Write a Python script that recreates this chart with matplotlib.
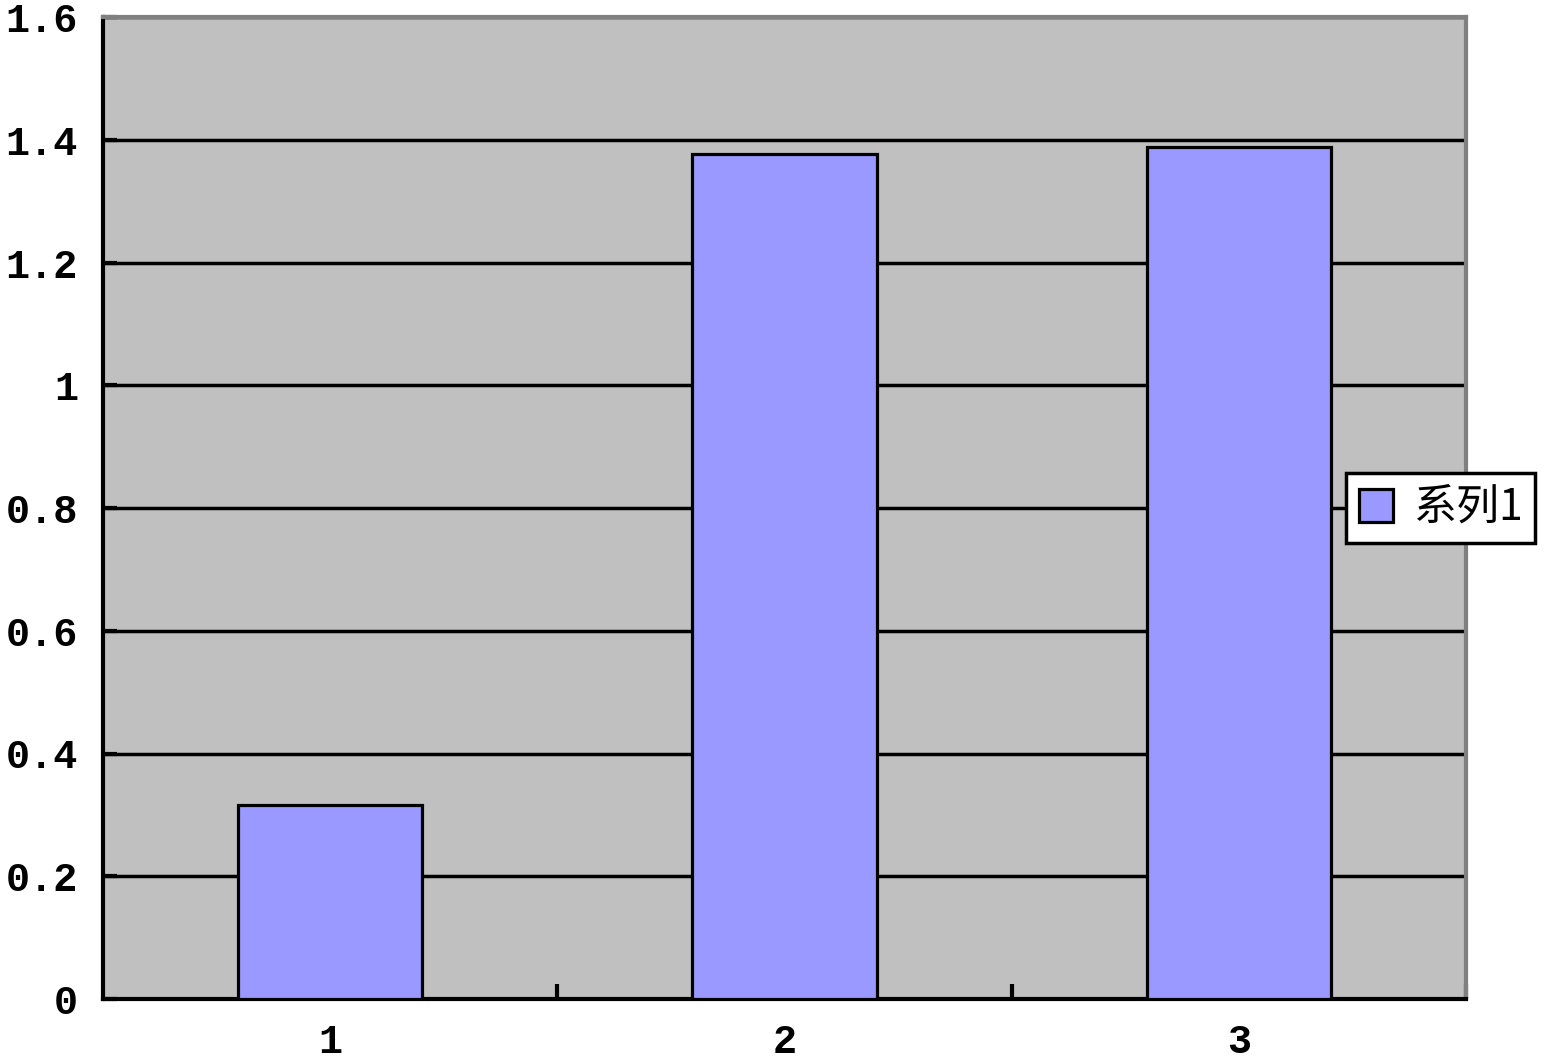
import matplotlib
matplotlib.use("Agg")
import matplotlib.pyplot as plt
from matplotlib.ticker import FixedLocator, FixedFormatter

categories = ["1", "2", "3"]
values = [0.316, 1.377, 1.389]
series_name = "系列1"
y_ticks = [0, 0.2, 0.4, 0.6, 0.8, 1.0, 1.2, 1.4, 1.6]
y_tick_labels = ["0", "0.2", "0.4", "0.6", "0.8", "1", "1.2", "1.4", "1.6"]

W, H = 1554, 1063
fig = plt.figure(figsize=(W / 100, H / 100), dpi=100)
ax = fig.add_axes([103 / W, 1 - 999 / H, (1466 - 103) / W, (999 - 17) / H])
ax.set_facecolor("#C0C0C0")

x = list(range(len(categories)))
ax.bar(x, values, width=0.405, color="#9999FF", edgecolor="black", linewidth=2.3,
       label=series_name, zorder=3)

ax.set_xlim(-0.5, len(categories) - 0.5)
ax.set_ylim(0, 1.6)

ax.yaxis.set_major_locator(FixedLocator(y_ticks))
ax.yaxis.set_major_formatter(FixedFormatter(y_tick_labels))
ax.grid(axis="y", color="black", linewidth=2.5, zorder=1)
ax.set_axisbelow(True)

ax.set_xticks(x)
ax.set_xticklabels(categories)
ax.set_xticks([i + 0.5 for i in range(len(categories))], minor=True)
ax.tick_params(axis="x", which="major", length=0, pad=17)
ax.tick_params(axis="x", which="minor", direction="in", length=11, width=3, color="black")
ax.tick_params(axis="y", which="major", direction="in", length=10, width=3, pad=18)

for lbl in ax.get_xticklabels() + ax.get_yticklabels():
    lbl.set_fontfamily("Liberation Mono")
    lbl.set_fontweight("bold")
    lbl.set_fontsize(29)

ax.spines["left"].set_color("black")
ax.spines["left"].set_linewidth(3)
ax.spines["bottom"].set_color("black")
ax.spines["bottom"].set_linewidth(3)
ax.spines["top"].set_color("#808080")
ax.spines["top"].set_linewidth(3)
ax.spines["right"].set_color("#808080")
ax.spines["right"].set_linewidth(3)

leg = fig.legend(loc="center left", bbox_to_anchor=(1346 / W, 1 - 508 / H),
                 bbox_transform=fig.transFigure, fancybox=False, framealpha=1,
                 edgecolor="black", handlelength=0.8, handleheight=0.8,
                 handletextpad=0.45, borderpad=0.3, borderaxespad=0,
                 prop={"family": ["Noto Sans CJK SC", "DejaVu Sans"], "size": 31})
leg.get_frame().set_linewidth(2.5)
leg.set_zorder(10)

fig.savefig("out.png", dpi=100)
